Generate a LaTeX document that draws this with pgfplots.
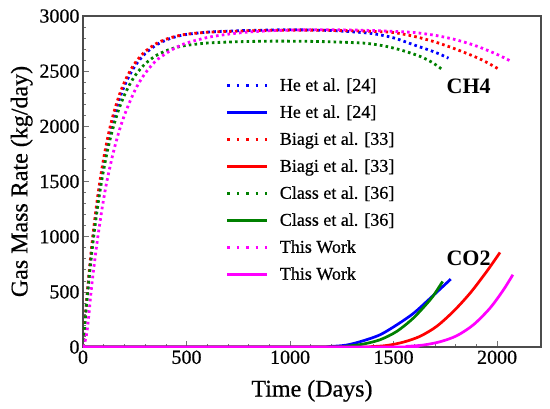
\documentclass[border=0pt]{standalone}
\usepackage{pgfplots}
\pgfplotsset{compat=1.18}
\usepackage{fontspec}
\setmainfont{LiberationSerif}[Extension=.ttf, UprightFont=*-Regular, BoldFont=*-Bold, ItalicFont=*-Italic, BoldItalicFont=*-BoldItalic, UprightFeatures={FakeBold=0.6}]
\definecolor{cgreen}{RGB}{0,128,0}
\definecolor{cblue}{RGB}{0,0,255}
\definecolor{cred}{RGB}{255,0,0}
\definecolor{cmag}{RGB}{255,0,255}
\pgfplotsset{
  dotline/.style={line width=2.8pt, line cap=butt, dash pattern=on 2.6pt off 3.2pt,
    legend image code/.code={\draw[##1, dash pattern=on 2.6pt off 6.8pt] (0pt,0pt) -- (40pt,0pt);}},
  solidline/.style={line width=2.7pt,
    legend image code/.code={\draw[##1] (0pt,0pt) -- (40pt,0pt);}},
}
\begin{document}
\begin{tikzpicture}
\useasboundingbox (-83pt,-61pt) rectangle (467pt,347pt);
\begin{axis}[
  scale only axis, width=458pt, height=331pt,
  xmin=0, xmax=2212, ymin=0, ymax=3000,
  xtick={0,500,1000,1500,2000}, ytick={0,500,1000,1500,2000,2500,3000},
  xticklabels={0,500,1000,1500,2000},
  yticklabels={0,500,1000,1500,2000,2500,3000},
  minor x tick num=4, minor y tick num=4,
  xtick pos=bottom, ytick pos=left, tick align=inside,
  major tick length=6pt, minor tick length=3.5pt,
  tick style={black!55, line width=0.6pt},
  axis line style={black!70, line width=1.1pt},
  ticklabel style={font=\fontsize{20}{20}\selectfont},
  xlabel={Time (Days)}, ylabel={Gas Mass Rate (kg/day)},
  label style={font=\fontsize{24}{24}\selectfont},
  xlabel style={yshift=-9pt},
  legend style={at={(axis cs:690,2455)}, anchor=north west, draw=none, fill=none,
    font=\fontsize{18}{20}\selectfont, row sep=9pt, column sep=9pt, inner sep=0pt},
  legend cell align=left,
]
\addplot[cblue, dotline, smooth] coordinates {(0,0) (10,239) (20,458) (35,753) (50,1012) (70,1308) (90,1558) (110,1767) (130,1943) (150,2091) (175,2244) (200,2366) (230,2482) (260,2571) (300,2659) (350,2733) (400,2781) (450,2813) (500,2833) (600,2854) (700,2863) (800,2869) (900,2873) (1000,2875) (1100,2873) (1200,2868) (1300,2857) (1400,2840) (1500,2802) (1600,2737) (1700,2672) (1765,2618)};
\addlegendentry{He et al. [24]}
\addplot[cblue, solidline, smooth] coordinates {(0,0) (1100,0) (1193,5) (1274,18) (1354,57) (1435,111) (1515,200) (1596,305) (1676,440) (1776,615)};
\addlegendentry{He et al. [24]}
\addplot[cred, dotline, smooth] coordinates {(0,0) (10,249) (20,476) (35,781) (50,1046) (70,1349) (90,1601) (110,1811) (130,1986) (150,2132) (175,2281) (200,2400) (230,2511) (260,2595) (300,2678) (350,2746) (400,2789) (450,2817) (500,2835) (600,2853) (700,2860) (800,2866) (900,2870) (1000,2872) (1100,2872) (1200,2870) (1300,2866) (1400,2860) (1500,2850) (1600,2815) (1700,2765) (1800,2700) (1900,2625) (1950,2580) (2014,2512)};
\addlegendentry{Biagi et al. [33]}
\addplot[cred, solidline, smooth] coordinates {(0,0) (1300,0) (1386,3) (1467,14) (1547,44) (1628,97) (1708,187) (1789,323) (1870,489) (1950,685) (2014,857)};
\addlegendentry{Biagi et al. [33]}
\addplot[cgreen, dotline, smooth] coordinates {(0,0) (10,231) (20,442) (35,727) (50,977) (70,1263) (90,1504) (110,1706) (130,1876) (150,2018) (175,2165) (200,2283) (230,2395) (260,2481) (300,2566) (350,2638) (400,2684) (450,2715) (500,2734) (600,2755) (700,2764) (800,2769) (900,2772) (1000,2772) (1100,2770) (1200,2766) (1300,2759) (1370,2752) (1450,2730) (1531,2694) (1628,2634) (1690,2575) (1741,2506)};
\addlegendentry{Class et al. [36]}
\addplot[cgreen, solidline, smooth] coordinates {(0,0) (1200,0) (1274,7) (1354,27) (1435,66) (1515,141) (1596,263) (1676,426) (1708,510) (1737,594)};
\addlegendentry{Class et al. [36]}
\addplot[cmag, dotline, smooth] coordinates {(0,0) (15,90) (26,250) (40,520) (55,760) (70,975) (90,1230) (110,1450) (130,1630) (150,1790) (175,1960) (200,2100) (230,2240) (260,2360) (300,2480) (350,2590) (400,2660) (450,2715) (500,2755) (600,2805) (700,2835) (800,2855) (900,2866) (1000,2872) (1100,2875) (1200,2875) (1300,2873) (1400,2868) (1500,2860) (1600,2850) (1700,2825) (1800,2785) (1900,2728) (2000,2652) (2063,2594)};
\addlegendentry{This Work}
\addplot[cmag, solidline, smooth] coordinates {(0,0) (1480,0) (1564,6) (1644,18) (1725,48) (1805,102) (1886,202) (1966,353) (2031,519) (2076,655)};
\addlegendentry{This Work}
\node[font=\fontsize{22}{22}\selectfont\bfseries] at (axis cs:1863,2366) {CH4};
\node[font=\fontsize{22}{22}\selectfont\bfseries] at (axis cs:1862,806) {CO2};
\end{axis}
\end{tikzpicture}
\end{document}
